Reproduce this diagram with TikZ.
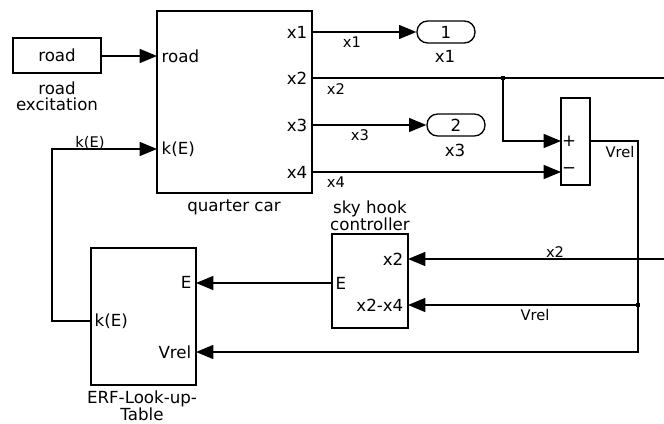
\documentclass[tikz,border=0pt]{standalone}
\usepackage{fontspec}
\setmainfont{DejaVu Sans}
\usetikzlibrary{arrows.meta}
\begin{document}
\begin{tikzpicture}[x=0.75pt,y=-0.75pt,line width=1pt,
  blk/.style={draw,line width=1pt,inner sep=0pt},
  outblk/.style={draw,line width=1pt,inner sep=0pt,rounded corners=8pt,minimum width=43.5pt,minimum height=16.5pt,font=\fontsize{12.5}{14}\selectfont},
  sig/.style={-{Triangle[length=13pt,width=10.5pt]}},
  port/.style={font=\fontsize{12.5}{14}\selectfont,inner sep=0pt},
  nm/.style={font=\fontsize{12.5}{12}\selectfont,align=center,inner sep=0pt},
  lbl/.style={font=\fontsize{11}{12}\selectfont,inner sep=0pt},
  jdot/.style={fill,inner sep=0pt,minimum size=3.5pt}]
\useasboundingbox (0,0) rectangle (664,424);

% blocks
\node[blk,minimum width=66pt,minimum height=26.25pt,font=\fontsize{12.5}{14}\selectfont] (road) at (57,55.5) {road};
\node[blk,minimum width=116.25pt,minimum height=136.5pt] (qc) at (234.5,102) {};
\node[outblk] (out1) at (446,32) {1};
\node[outblk] (out2) at (456,125) {2};
\node[blk,minimum width=21.75pt,minimum height=65.25pt] (sum) at (575.5,141.5) {};
\node[blk,minimum width=57pt,minimum height=70.5pt] (sky) at (370,281) {};
\node[blk,minimum width=78.75pt,minimum height=102.75pt] (erf) at (143.5,316.5) {};

% block names
\node[nm] (roadname) at (57,96) {road\\excitation};
\node[nm] (qcname) at (234,207) {quarter car};
\node[nm] (out1name) at (445,56) {x1};
\node[nm] (out2name) at (455,150) {x3};
\node[nm] (skyname) at (370,216) {sky hook\\controller};
\node[nm] (erfname) at (142,406) {ERF-Look-up-\\Table};

% port labels
\node[port,anchor=west] (pqroad) at (161,56) {road};
\node[port,anchor=west] (pqk) at (161,149) {k(E)};
\node[port,anchor=east] (pqx1) at (308,32) {x1};
\node[port,anchor=east] (pqx2) at (308,78) {x2};
\node[port,anchor=east] (pqx3) at (308,125) {x3};
\node[port,anchor=east] (pqx4) at (308,172) {x4};
\node[port] (pplus) at (569,141) {+};
\node[port] (pminus) at (569,171) {−};
\node[port,anchor=east] (psx2) at (404,259) {x2};
\node[port,anchor=east] (psx24) at (404,305) {x2-x4};
\node[port,anchor=west] (psE) at (335,283) {E};
\node[port,anchor=east] (peE) at (192,282) {E};
\node[port,anchor=west] (pek) at (94,321) {k(E)};
\node[port,anchor=east] (pev) at (192,352) {Vrel};

% port coordinates
\coordinate (qroad) at (157,56);
\coordinate (qk) at (157,149);
\coordinate (qx1) at (312,32);
\coordinate (qx2) at (312,78);
\coordinate (qx3) at (312,125);
\coordinate (qx4) at (312,172);
\coordinate (sp) at (561,141);
\coordinate (sm) at (561,172);
\coordinate (so) at (590,141);
\coordinate (sx2) at (408,259);
\coordinate (sx24) at (408,305);
\coordinate (sE) at (332,283);
\coordinate (eE) at (196,283);
\coordinate (ek) at (91,321);
\coordinate (ev) at (196,352);
\coordinate (e2) at (664,78);
\coordinate (e3) at (664,259);
\coordinate (kc) at (52,321);
\coordinate (vc) at (638,141);
\node[jdot] (j1) at (503,78) {};
\node[jdot] (j2) at (638,305) {};

% connectors
\draw[sig] (road.east |- qroad) -- (qroad);
\draw[sig] (qx1) -- (out1.west);
\draw (qx2) -- (e2);
\draw[sig] (j1.center) |- (sp);
\draw[sig] (qx3) -- (out2.west);
\draw[sig] (qx4) -- (sm);
\draw[sig] (so) -- (vc) |- (ev);
\draw[sig] (j2.center) -- (sx24);
\draw[sig] (e3) -- (sx2);
\draw[sig] (sE) -- (eE);
\draw[sig] (ek) -- (kc) |- (qk);

% signal labels
\node[lbl] (lx1) at (352,42) {x1};
\node[lbl] (lx2) at (336,89) {x2};
\node[lbl] (lx3) at (360,135) {x3};
\node[lbl] (lx4) at (336,182) {x4};
\node[lbl] (lk) at (90,143) {k(E)};
\node[lbl] (lv1) at (620,152) {Vrel};
\node[lbl] (lx2b) at (555,252) {x2};
\node[lbl] (lv2) at (535,315) {Vrel};
\end{tikzpicture}
\end{document}
